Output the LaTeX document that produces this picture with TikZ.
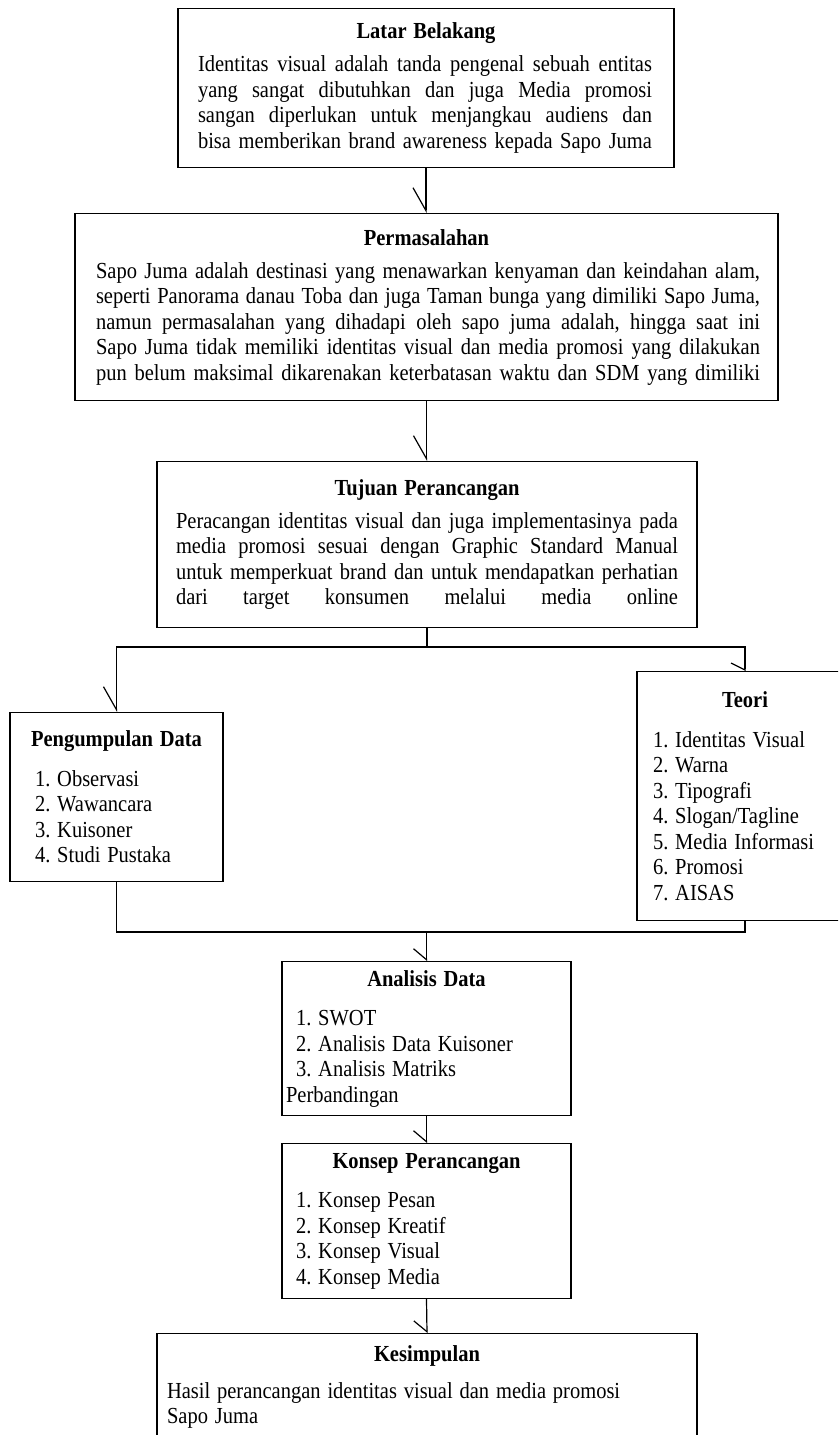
\documentclass[tikz,border=0pt]{standalone}
\usepackage{graphicx}
\usepackage{fontspec}
\setmainfont{Liberation Serif}
\usetikzlibrary{arrows.meta}

% text is set a little taller than wide, as in the scan
\newcommand{\tallbox}[1]{\scalebox{1}[1.12]{#1}}
% one text line stretched to a given width
\newcommand{\jline}[2]{\tallbox{\makebox[#1][s]{\spaceskip=0pt\relax #2}}}
\newcommand{\boxtitle}[1]{\makebox[\hsize]{\tallbox{\textbf{#1}}}}
\newcommand{\entry}[2]{\hspace*{#1}\tallbox{#2}}

\begin{document}
\begin{tikzpicture}[x=1pt, y=-1pt, line width=1.2pt,
    font=\fontsize{20.5}{25.5}\selectfont,
    box/.style={draw, inner sep=0pt, anchor=north, align=left,
      execute at begin node={\frenchspacing\lineskiplimit=-20pt\relax}},
    longbarb/.style={-{Straight Barb[right, length=23pt, width=26pt]}},
    shortbarb/.style={-{Straight Barb[right, length=11pt, width=26pt]}},
    flatbarb/.style={-{Straight Barb[right, length=7pt, width=28pt]}}]
\clip (0,0) rectangle (838,1435);

\node[box, text width=496pt, minimum height=159pt] (latar) at (426,8) {%
  \boxtitle{Latar Belakang}\\[7.5pt]
  \hspace*{20pt}\jline{454pt}{Identitas visual adalah tanda pengenal sebuah entitas}\\
  \hspace*{20pt}\jline{454pt}{yang sangat dibutuhkan dan juga Media promosi}\\
  \hspace*{20pt}\jline{454pt}{sangan diperlukan untuk menjangkau audiens dan}\\
  \hspace*{20pt}\jline{454pt}{bisa memberikan brand awareness kepada Sapo Juma}};

\node[box, text width=703pt, minimum height=187pt] (perm) at (426.5,213) {%
  \boxtitle{Permasalahan}\\[7.5pt]
  \hspace*{21pt}\jline{664pt}{Sapo Juma adalah destinasi yang menawarkan kenyaman dan keindahan alam,}\\
  \hspace*{21pt}\jline{664pt}{seperti Panorama danau Toba dan juga Taman bunga yang dimiliki Sapo Juma,}\\
  \hspace*{21pt}\jline{664pt}{namun permasalahan yang dihadapi oleh sapo juma adalah, hingga saat ini}\\
  \hspace*{21pt}\jline{664pt}{Sapo Juma tidak memiliki identitas visual dan media promosi yang dilakukan}\\
  \hspace*{21pt}\jline{664pt}{pun belum maksimal dikarenakan keterbatasan waktu dan SDM yang dimiliki}};

\node[box, text width=540pt, minimum height=166pt] (tujuan) at (427,461) {%
  \boxtitle{Tujuan Perancangan}\\[7.5pt]
  \hspace*{19pt}\jline{502pt}{Peracangan identitas visual dan juga implementasinya pada}\\
  \hspace*{19pt}\jline{502pt}{media promosi sesuai dengan Graphic Standard Manual}\\
  \hspace*{19pt}\jline{502pt}{untuk memperkuat brand dan untuk mendapatkan perhatian}\\
  \hspace*{19pt}\jline{502pt}{dari target konsumen melalui media online}};

\node[box, text width=213pt, minimum height=169pt] (pengumpulan) at (116.5,712) {%
  \boxtitle{Pengumpulan Data}\\[14pt]
  \entry{25pt}{1. Observasi}\\
  \entry{25pt}{2. Wawancara}\\
  \entry{25pt}{3. Kuisoner}\\
  \entry{25pt}{4. Studi Pustaka}};

\node[box, text width=216pt, minimum height=249pt] (teori) at (745,671) {%
  \boxtitle{Teori}\\[14pt]
  \entry{16pt}{1. Identitas Visual}\\
  \entry{16pt}{2. Warna}\\
  \entry{16pt}{3. Tipografi}\\
  \entry{16pt}{4. Slogan/Tagline}\\
  \entry{16pt}{5. Media Informasi}\\
  \entry{16pt}{6. Promosi}\\
  \entry{16pt}{7. AISAS}};

\node[box, text width=289pt, minimum height=154pt] (analisis) at (426.5,961) {%
  \boxtitle{Analisis Data}\\[14pt]
  \entry{14pt}{1. SWOT}\\
  \entry{14pt}{2. Analisis Data Kuisoner}\\
  \entry{14pt}{3. Analisis Matriks}\\
  \entry{4pt}{Perbandingan}};

\node[box, text width=289pt, minimum height=155pt] (konsep) at (426.5,1143) {%
  \boxtitle{Konsep Perancangan}\\[14pt]
  \entry{14pt}{1. Konsep Pesan}\\
  \entry{14pt}{2. Konsep Kreatif}\\
  \entry{14pt}{3. Konsep Visual}\\
  \entry{14pt}{4. Konsep Media}};

\node[box, text width=540pt, minimum height=107pt] (kesimpulan) at (427,1333) {%
  \boxtitle{Kesimpulan}\\[11.5pt]
  \entry{10pt}{Hasil perancangan identitas visual dan media promosi}\\
  \entry{10pt}{Sapo Juma}};

\coordinate (split) at (427,647);
\coordinate (merge) at (426.5,932);

% arrows between the boxes
\draw[longbarb] (latar.south) -- (latar.south |- perm.north);
\draw[longbarb] (perm.south) -- (perm.south |- tujuan.north);
\draw (tujuan.south) -- (split);
\draw[longbarb] (split) -| (pengumpulan.north);
\draw[flatbarb] (split) -| (teori.north);
\draw (pengumpulan.south) |- (merge) -| (teori.south);
\draw[shortbarb] (merge) -- (analisis.north);
\draw[shortbarb] (analisis.south) -- (konsep.north);
\draw[shortbarb] (konsep.south) -- (kesimpulan.north);
\end{tikzpicture}
\end{document}
